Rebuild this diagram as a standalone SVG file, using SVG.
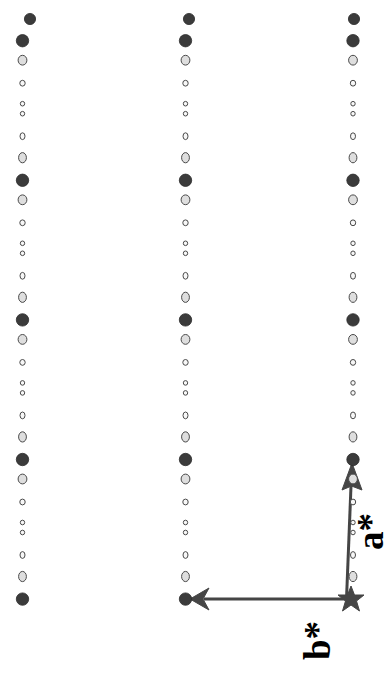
<svg xmlns="http://www.w3.org/2000/svg" xmlns:xlink="http://www.w3.org/1999/xlink" width="390" height="675" viewBox="0 0 390 675">
<style>
.dk{fill:#3b3b3b;stroke:#2c2c2c;stroke-width:0.8}
.lt{fill:#dedede;stroke:#4a4a4a;stroke-width:1}
.wh{fill:#f7f7f7;stroke:#4a4a4a;stroke-width:1}
.ax{stroke:#454545;stroke-width:3;fill:none}
.ah{fill:#454545;stroke:#454545;stroke-width:1;stroke-linejoin:round}
.lbl{font-family:"Liberation Serif","Times New Roman",serif;font-weight:bold;font-size:37px;fill:#000}
</style>
<defs>
<circle id="dk" class="dk" r="6.2"/>
<circle id="dt" class="dk" r="5.6"/>
<ellipse id="lt" class="lt" rx="4.4" ry="4.9"/>
<ellipse id="sm" class="wh" rx="2.7" ry="2.9"/>
<ellipse id="ti" class="wh" rx="2.2" ry="2.3"/>
<ellipse id="so" class="wh" rx="2.5" ry="3.4"/>
<ellipse id="lo" class="lt" rx="3.9" ry="5.1"/>
</defs>
<rect width="390" height="675" fill="#ffffff"/>
<g id="connectors">
<line class="ax" x1="347" y1="599" x2="204" y2="599"/>
<polygon class="ah" points="190,599 209,588 203,599 209,610"/>
<line class="ax" x1="346.5" y1="599" x2="351" y2="486"/>
<polygon class="ah" points="352,463 362,490 351.5,486 342,490"/>
<polygon class="ah" points="351,586 354.5,595 364,595 356.5,601 359.5,611 351,605 342.5,611 345.5,601 338,595 347.5,595"/>
</g>
<g id="top-row">
<use id="t0" xlink:href="#dt" x="30" y="19"/>
<use id="t1" xlink:href="#dt" x="189" y="19"/>
<use id="t2" xlink:href="#dt" x="354" y="19"/>
</g>
<g id="col-left" transform="translate(22.5,0)">
<use xlink:href="#dk" y="40.7"/><use xlink:href="#lt" y="60.2"/><use xlink:href="#sm" y="83.2"/><use xlink:href="#ti" y="103.7"/><use xlink:href="#ti" y="113.7"/><use xlink:href="#so" y="136.2"/><use xlink:href="#lo" y="157.7"/>
<use xlink:href="#dk" y="180.3"/><use xlink:href="#lt" y="199.8"/><use xlink:href="#sm" y="222.8"/><use xlink:href="#ti" y="243.3"/><use xlink:href="#ti" y="253.3"/><use xlink:href="#so" y="275.8"/><use xlink:href="#lo" y="297.3"/>
<use xlink:href="#dk" y="319.9"/><use xlink:href="#lt" y="339.4"/><use xlink:href="#sm" y="362.4"/><use xlink:href="#ti" y="382.9"/><use xlink:href="#ti" y="392.9"/><use xlink:href="#so" y="415.4"/><use xlink:href="#lo" y="436.9"/>
<use xlink:href="#dk" y="459.5"/><use xlink:href="#lt" y="479"/><use xlink:href="#sm" y="502"/><use xlink:href="#ti" y="522.5"/><use xlink:href="#ti" y="532.5"/><use xlink:href="#so" y="555"/><use xlink:href="#lo" y="576.5"/>
<use xlink:href="#dk" y="599.1"/>
</g>
<g id="col-mid" transform="translate(185.5,0)">
<use xlink:href="#dk" y="40.7"/><use xlink:href="#lt" y="60.2"/><use xlink:href="#sm" y="83.2"/><use xlink:href="#ti" y="103.7"/><use xlink:href="#ti" y="113.7"/><use xlink:href="#so" y="136.2"/><use xlink:href="#lo" y="157.7"/>
<use xlink:href="#dk" y="180.3"/><use xlink:href="#lt" y="199.8"/><use xlink:href="#sm" y="222.8"/><use xlink:href="#ti" y="243.3"/><use xlink:href="#ti" y="253.3"/><use xlink:href="#so" y="275.8"/><use xlink:href="#lo" y="297.3"/>
<use xlink:href="#dk" y="319.9"/><use xlink:href="#lt" y="339.4"/><use xlink:href="#sm" y="362.4"/><use xlink:href="#ti" y="382.9"/><use xlink:href="#ti" y="392.9"/><use xlink:href="#so" y="415.4"/><use xlink:href="#lo" y="436.9"/>
<use xlink:href="#dk" y="459.5"/><use xlink:href="#lt" y="479"/><use xlink:href="#sm" y="502"/><use xlink:href="#ti" y="522.5"/><use xlink:href="#ti" y="532.5"/><use xlink:href="#so" y="555"/><use xlink:href="#lo" y="576.5"/>
<use xlink:href="#dk" y="599.1"/>
</g>
<g id="col-right" transform="translate(353,0)">
<use xlink:href="#dk" y="40.7"/><use xlink:href="#lt" y="60.2"/><use xlink:href="#sm" y="83.2"/><use xlink:href="#ti" y="103.7"/><use xlink:href="#ti" y="113.7"/><use xlink:href="#so" y="136.2"/><use xlink:href="#lo" y="157.7"/>
<use xlink:href="#dk" y="180.3"/><use xlink:href="#lt" y="199.8"/><use xlink:href="#sm" y="222.8"/><use xlink:href="#ti" y="243.3"/><use xlink:href="#ti" y="253.3"/><use xlink:href="#so" y="275.8"/><use xlink:href="#lo" y="297.3"/>
<use xlink:href="#dk" y="319.9"/><use xlink:href="#lt" y="339.4"/><use xlink:href="#sm" y="362.4"/><use xlink:href="#ti" y="382.9"/><use xlink:href="#ti" y="392.9"/><use xlink:href="#so" y="415.4"/><use xlink:href="#lo" y="436.9"/>
<use xlink:href="#dk" y="459.5"/><use xlink:href="#lt" y="479"/><use xlink:href="#sm" y="502"/><use xlink:href="#ti" y="522.5"/><use xlink:href="#ti" y="532.5"/><use xlink:href="#so" y="555"/><use xlink:href="#lo" y="576.5"/>
</g>
<g id="labels">
<text id="label-a" class="lbl" transform="translate(383,550) rotate(-90)">a*</text>
<text id="label-b" class="lbl" transform="translate(330,660) rotate(-90)">b*</text>
</g>
</svg>
